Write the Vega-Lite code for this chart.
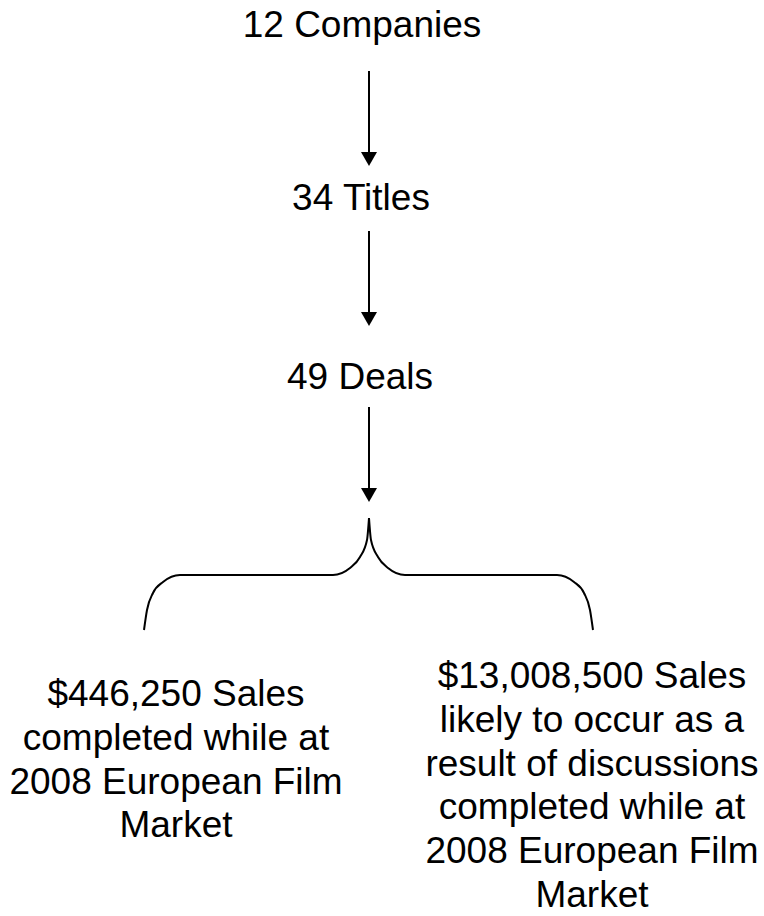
{
  "$schema": "https://vega.github.io/schema/vega-lite/v6.json",
  "width": 764,
  "height": 916,
  "autosize": {"type": "fit", "contains": "padding"},
  "padding": 0,
  "background": "white",
  "config": {"view": {"stroke": null}},
  "datasets": {
    "labels": [
      {"label": "12 Companies", "x": 362, "y": 37},
      {"label": "34 Titles", "x": 361, "y": 210},
      {"label": "49 Deals", "x": 360, "y": 389},
      {"label": "$446,250 Sales\ncompleted while at\n2008 European Film\nMarket", "x": 176, "y": 706},
      {"label": "$13,008,500 Sales\nlikely to occur as a\nresult of discussions\ncompleted while at\n2008 European Film\nMarket", "x": 592, "y": 688}
    ],
    "arrows": [
      {"x": 369, "start": 71, "end": 159},
      {"x": 369, "start": 231, "end": 319},
      {"x": 369, "start": 407, "end": 495}
    ],
    "brace": [
      {"half": "left", "x": 144, "y": 630},
      {"half": "left", "x": 147, "y": 610},
      {"half": "left", "x": 153, "y": 593},
      {"half": "left", "x": 163, "y": 582},
      {"half": "left", "x": 180, "y": 575},
      {"half": "left", "x": 333, "y": 575},
      {"half": "left", "x": 350, "y": 568},
      {"half": "left", "x": 360, "y": 557},
      {"half": "left", "x": 367, "y": 540},
      {"half": "left", "x": 369, "y": 518},
      {"half": "right", "x": 369, "y": 518},
      {"half": "right", "x": 371, "y": 540},
      {"half": "right", "x": 378, "y": 557},
      {"half": "right", "x": 388, "y": 568},
      {"half": "right", "x": 405, "y": 575},
      {"half": "right", "x": 557, "y": 575},
      {"half": "right", "x": 574, "y": 582},
      {"half": "right", "x": 584, "y": 593},
      {"half": "right", "x": 590, "y": 610},
      {"half": "right", "x": 593, "y": 630}
    ]
  },
  "layer": [
    {
      "data": {"name": "arrows"},
      "mark": {"type": "rule", "color": "black", "strokeWidth": 2},
      "encoding": {
        "x": {"field": "x", "type": "quantitative", "axis": null, "scale": {"domain": [0, 764], "nice": false, "zero": false}},
        "y": {"field": "start", "type": "quantitative", "axis": null, "scale": {"domain": [0, 916], "reverse": true, "nice": false, "zero": false}},
        "y2": {"field": "end"}
      }
    },
    {
      "data": {"name": "arrows"},
      "mark": {"type": "point", "shape": "triangle-down", "filled": true, "color": "black", "size": 256, "opacity": 1, "strokeWidth": 0},
      "encoding": {
        "x": {"field": "x", "type": "quantitative", "axis": null, "scale": {"domain": [0, 764], "nice": false, "zero": false}},
        "y": {"field": "end", "type": "quantitative", "axis": null, "scale": {"domain": [0, 916], "reverse": true, "nice": false, "zero": false}}
      }
    },
    {
      "data": {"name": "brace"},
      "mark": {"type": "line", "interpolate": "monotone", "color": "black", "strokeWidth": 2},
      "encoding": {
        "x": {"field": "x", "type": "quantitative", "axis": null, "scale": {"domain": [0, 764], "nice": false, "zero": false}},
        "y": {"field": "y", "type": "quantitative", "axis": null, "scale": {"domain": [0, 916], "reverse": true, "nice": false, "zero": false}},
        "detail": {"field": "half", "type": "nominal"}
      }
    },
    {
      "data": {"name": "labels"},
      "mark": {"type": "text", "font": "Liberation Sans", "fontSize": 37, "color": "black", "align": "center", "baseline": "alphabetic", "lineBreak": "\n", "lineHeight": 43.8},
      "encoding": {
        "x": {"field": "x", "type": "quantitative", "axis": null, "scale": {"domain": [0, 764], "nice": false, "zero": false}},
        "y": {"field": "y", "type": "quantitative", "axis": null, "scale": {"domain": [0, 916], "reverse": true, "nice": false, "zero": false}},
        "text": {"field": "label", "type": "nominal"}
      }
    }
  ]
}
